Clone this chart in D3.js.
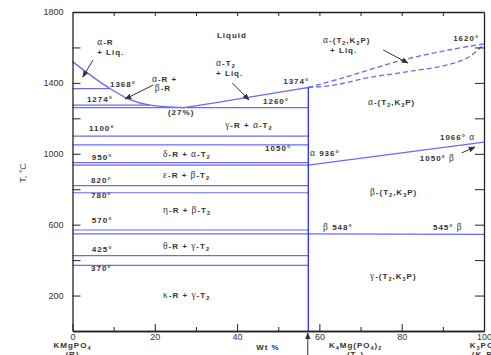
<!DOCTYPE html>
<html>
<head>
<meta charset="utf-8">
<script src="https://cdn.jsdelivr.net/npm/d3@7"></script>
<style>
  html, body { margin: 0; padding: 0; background: #fff; }
  svg { display: block; }
  text { font-family: "Liberation Sans", Arial, sans-serif; fill: #333; }
</style>
</head>
<body>
<svg id="chart" width="491" height="355"></svg>
<script>
// ---- Phase diagram data: KMgPO4 (R) – K4Mg(PO4)2 (T2) – K3PO4 (K3P), wt % vs T (°C)
const compT2 = 57.3;                       // wt % of K4Mg(PO4)2
const tempTicks = [200, 400, 600, 800, 1000, 1200, 1400, 1600, 1800];
const tempLabels = [200, 600, 1000, 1400, 1800];
const wtTicks = [0, 20, 40, 60, 80, 100];
const wtMinor = [10, 30, 50, 70, 90];

// liquidus of R side (α-R primary field) down to the 27 % eutectic
const liquidusR = [[0, 1520], [9.1, 1368], [14, 1305], [18.8, 1274], [27, 1260]];
// liquidus of T2 side
const liquidusT2 = [[27, 1260], [35, 1289], [43, 1320], [50.4, 1348], [57.3, 1374]];
// solid-solution loop T2 – K3P (dashed)
const liquidusSS = [[57.3, 1374], [65.7, 1428], [79.6, 1525], [91.7, 1587], [100, 1620]];
const solidusSS = [[57.3, 1374], [63.3, 1386], [71.6, 1428], [82.0, 1465], [91.7, 1505], [96.6, 1550], [100, 1620]];
// α/β transition of the solid solution and β/γ transition
const alphaBetaSS = [[57.3, 936], [100, 1066]];
const betaGammaSS = [[57.3, 548], [100, 545]];

// invariant / transition isotherms: [temperature, from wt %, to wt %]
const isoTemps = [1368, 1274, 1260, 1100, 1050, 950, 936, 820, 780, 570, 548, 425, 370];
const isoFrom  = [0, 0, 0, 0, 0, 0, 0, 0, 0, 0, 0, 0, 0];
const isoTo    = [9.1, 18.8, 57.3, 57.3, 57.3, 57.3, 57.3, 57.3, 57.3, 57.3, 57.3, 57.3, 57.3];

// labels: [text, wt %, T]
const labels = [
  ["Liquid", 35.1, 1654],
  ["α-R", 6.0, 1614], ["+ Liq.", 6.0, 1558],
  ["1368°", 9.1, 1377],
  ["1274°", 3.5, 1292],
  ["α-R +", 19.3, 1405], ["β-R", 20.0, 1354],
  ["(27%)", 23.2, 1219],
  ["α-T_2", 34.9, 1497], ["+ Liq.", 34.9, 1440],
  ["1374°", 51.2, 1394],
  ["1260°", 46.3, 1281],
  ["γ-R + α-T_2", 37.1, 1146],
  ["1100°", 4.0, 1129],
  ["1050°", 46.8, 1016],
  ["950°", 4.7, 965],
  ["δ-R + α-T_2", 22.0, 982],
  ["α 936°", 57.7, 988],
  ["1066° α", 89.3, 1078],
  ["1050° β", 84.4, 959],
  ["820°", 4.5, 835],
  ["ε-R + β-T_2", 22.0, 863],
  ["780°", 4.5, 751],
  ["η-R + β-T_2", 22.0, 666],
  ["β-(T_2,K_3P)", 72.3, 767],
  ["570°", 4.7, 609],
  ["β 548°", 60.9, 570],
  ["545° β", 87.6, 570],
  ["θ-R + γ-T_2", 22.0, 463],
  ["425°", 4.7, 446],
  ["370°", 4.5, 339],
  ["κ-R + γ-T_2", 22.0, 186],
  ["γ-(T_2,K_3P)", 72.3, 293],
  ["α-(T_2,K_3P)", 71.8, 1275],
  ["α-(T_2,K_3P)", 60.9, 1625], ["+ Liq.", 62.6, 1570],
  ["1620°", 92.5, 1636]
];

// pointer arrows: [from wt, from T, to wt, to T]
const pointers = [
  [5.0, 1529, 2.5, 1433],
  [19.6, 1388, 12.8, 1309],
  [38.8, 1400, 42.9, 1304],
  [75.5, 1586, 81.5, 1512],
  [94.6, 1005, 97.8, 1038]
];

// ---- drawing
const svg = d3.select("#chart");
const x = d3.scaleLinear().domain([0, 100]).range([72.5, 484]);
const y = d3.scaleLinear().domain([0, 1800]).range([331, 12]);

const defs = svg.append("defs");
defs.append("marker")
  .attr("id", "head").attr("viewBox", "0 0 10 10").attr("refX", 9).attr("refY", 5)
  .attr("markerWidth", 7).attr("markerHeight", 7).attr("orient", "auto-start-reverse")
  .attr("markerUnits", "userSpaceOnUse")
  .append("path").attr("d", "M0,1 L10,5 L0,9 Z").attr("fill", "#333");

const lineColor = "#6a6af6";
const line = d3.line().x(d => x(d[0])).y(d => y(d[1]));
const curve = d3.line().x(d => x(d[0])).y(d => y(d[1])).curve(d3.curveMonotoneX);
const smooth = d3.line().x(d => x(d[0])).y(d => y(d[1])).curve(d3.curveCatmullRom.alpha(0.5));

// isotherms
svg.append("g").selectAll("line").data(isoTemps).join("line")
  .attr("x1", (t, i) => x(isoFrom[i])).attr("x2", (t, i) => x(isoTo[i]))
  .attr("y1", t => y(t)).attr("y2", t => y(t))
  .attr("stroke", lineColor).attr("stroke-width", 1.2);

// liquidus curves
[liquidusR, liquidusT2].forEach(pts => {
  svg.append("path").attr("d", curve(pts)).attr("fill", "none")
    .attr("stroke", lineColor).attr("stroke-width", 1.3);
});
[liquidusSS, solidusSS].forEach(pts => {
  svg.append("path").attr("d", smooth(pts)).attr("fill", "none")
    .attr("stroke", lineColor).attr("stroke-width", 1.3).attr("stroke-dasharray", "5,3");
});
[alphaBetaSS, betaGammaSS].forEach(pts => {
  svg.append("path").attr("d", line(pts)).attr("fill", "none")
    .attr("stroke", lineColor).attr("stroke-width", 1.2);
});

// compound K4Mg(PO4)2 vertical
svg.append("line")
  .attr("x1", x(compT2)).attr("x2", x(compT2)).attr("y1", y(0)).attr("y2", y(1374))
  .attr("stroke", "#2a2aff").attr("stroke-width", 1.3);

// axes
const axisColor = "#222";
function styleAxis(g) {
  g.select(".domain").attr("stroke", axisColor).attr("stroke-width", 1.3);
  g.selectAll(".tick line").attr("stroke", axisColor).attr("stroke-width", 1);
  g.selectAll(".tick text").attr("fill", "#444").style("font-size", "9px")
    .style("font-family", "Liberation Sans, Arial, sans-serif");
}
svg.append("g").attr("transform", `translate(${x(0)},0)`)
  .call(d3.axisLeft(y).tickValues(tempTicks).tickSizeInner(-8).tickSizeOuter(0).tickPadding(9)
    .tickFormat(d => tempLabels.includes(d) ? d : ""))
  .call(styleAxis);
svg.append("g").attr("transform", `translate(${x(100)},0)`)
  .call(d3.axisRight(y).tickValues(tempTicks.slice(0, -1)).tickSizeInner(-9).tickSizeOuter(0).tickFormat(""))
  .call(styleAxis);
svg.append("g").attr("transform", `translate(0,${y(0)})`)
  .call(d3.axisBottom(x).tickValues(wtMinor).tickSizeInner(-4).tickSizeOuter(0).tickFormat(""))
  .call(styleAxis);
svg.append("g").attr("transform", `translate(0,${y(0)})`)
  .call(d3.axisBottom(x).tickValues(wtTicks).tickSizeInner(-7).tickSizeOuter(0).tickPadding(2.5))
  .call(styleAxis);
svg.append("g").attr("transform", `translate(0,${y(1800)})`)
  .call(d3.axisTop(x).tickValues(wtMinor.concat(wtTicks.slice(1, -1))).tickSizeInner(-4).tickSizeOuter(0).tickFormat(""))
  .call(styleAxis);

// rich text: Greek letters in serif, "_n" gives a subscript
function rich(sel, str, size) {
  const parts = str.match(/_[0-9]|[α-ω]|[^_α-ω]+/g);
  let lowered = false;
  parts.forEach(p => {
    const t = sel.append("tspan");
    let dy = 0;
    if (p[0] === "_") {
      t.text(p.slice(1)).style("font-size", (size - 2.5) + "px");
      dy = lowered ? 0 : 2; lowered = true;
    } else {
      if (lowered) { dy = -2; lowered = false; }
      if (/[α-ω]/.test(p)) {
        t.text(p).style("font-family", "Liberation Serif, Times New Roman, serif")
          .style("font-weight", "normal").style("font-size", (size + 1.5) + "px");
      } else {
        t.text(p);
      }
    }
    if (dy) t.attr("dy", dy);
  });
}

const lbl = svg.append("g").style("font-size", "8px").style("font-weight", "bold")
  .style("letter-spacing", "1px");
labels.forEach(([s, w, t]) => {
  const el = lbl.append("text").attr("x", x(w)).attr("y", y(t));
  rich(el, s, 8);
});

// pointer arrows
svg.append("g").selectAll("line").data(pointers).join("line")
  .attr("x1", d => x(d[0])).attr("y1", d => y(d[1]))
  .attr("x2", d => x(d[2])).attr("y2", d => y(d[3]))
  .attr("stroke", "#333").attr("stroke-width", 1).attr("marker-end", "url(#head)");

// arrow under the axis marking K4Mg(PO4)2
svg.append("line")
  .attr("x1", x(compT2) - 0.5).attr("x2", x(compT2) - 0.5)
  .attr("y1", 360).attr("y2", y(0) + 2)
  .attr("stroke", "#333").attr("stroke-width", 1).attr("marker-end", "url(#head)");

// axis titles and component names
const names = svg.append("g").style("font-size", "8px").style("font-weight", "bold")
  .style("letter-spacing", "1px");
function nameAt(str, xpos, ypos) {
  const el = names.append("text").attr("x", xpos).attr("y", ypos).attr("text-anchor", "middle");
  rich(el, str, 8);
}
nameAt("KMgPO_4", x(0), 348);
nameAt("(R)", x(0), 357);
nameAt("Wt %", x(47.5), 350);
nameAt("K_4Mg(PO_4)_2", x(68.8), 348);
nameAt("(T_2)", x(68.8), 357);
nameAt("K_3PO_4", x(100), 348);
nameAt("(K_3P)", x(100), 357);

svg.append("text")
  .attr("transform", `translate(26,173) rotate(-90)`)
  .attr("text-anchor", "middle")
  .style("font-size", "9px").style("fill", "#444")
  .text("T, °C");
</script>
</body>
</html>
